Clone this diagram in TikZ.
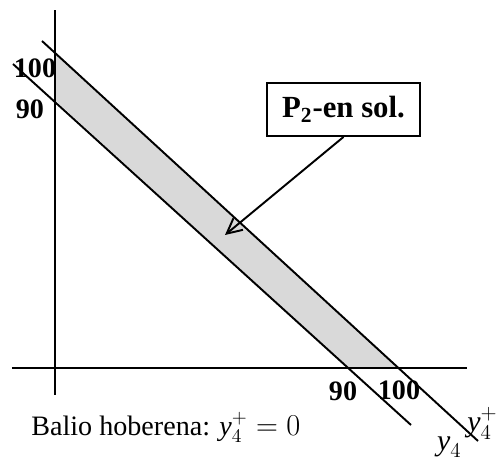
\documentclass[tikz,border=0pt]{standalone}
\usepackage{fontspec}
\setmainfont{Liberation Serif}
\usepackage{amsmath}
\usetikzlibrary{arrows.meta}
\newcommand{\yvar}{\mbox{\itshape y}}

\begin{document}
\begin{tikzpicture}[x=0.02cm, y=0.02cm,
        % Define styles for axes, constraint lines and labels
        axis/.style={line width=1.6pt},
        limit/.style={line width=1.1pt},
        numlabel/.style={font=\fontsize{16}{18}\selectfont\bfseries, inner sep=0pt},
        varlabel/.style={font=\fontsize{17}{19}\selectfont, inner sep=0pt},
        callout/.style={draw, line width=1.1pt, minimum width=3.06cm, minimum height=1.06cm, font=\fontsize{17.5}{19}\selectfont\bfseries}]

        \useasboundingbox (-55,-94) rectangle (445,368);

        % 1. Define the end points of the two lines y4 and y4+
        \coordinate (O) at (0, 0); % origin
        \coordinate (Utop) at (-13, 327);
        \coordinate (Ubot) at (423, -73);
        \coordinate (Ltop) at (-42, 304);
        \coordinate (Lbot) at (356, -57);

        % Axis crossings
        \coordinate (U1) at (0, 315);
        \coordinate (U2) at (343, 0);
        \coordinate (L1) at (0, 268);
        \coordinate (L2) at (293, 0);

        % 2. Shade the band between both lines
        \fill[black!15] (U1) -- (U2) -- (L2) -- (L1) -- cycle;

        % 3. Draw the axes
        \draw[axis] (0, -27) -- (0, 358);
        \draw[axis] (-43, 0) -- (412, 0);

        % 4. Draw the two lines
        \draw[limit] (Utop) -- (Ubot);
        \draw[limit] (Ltop) -- (Lbot);

        % 5. Labels on the axes
        \node[numlabel] (v100) at (-20, 300) {100};
        \node[numlabel] (v90) at (-25, 259) {90};
        \node[numlabel] (h90) at (288, -23) {90};
        \node[numlabel] (h100) at (344, -22) {100};

        \node[varlabel, anchor=east] (yplus) at (443, -55) {$\yvar_4^+$};
        \node[varlabel, anchor=east] (yminus) at (407, -79) {$\yvar_4$};

        % 6. Call-out box with its arrow
        \node[callout] (sol) at (288.5, 258.5) {P\textsubscript{2}-en sol.};
        \coordinate (tip) at (170, 133);
        \draw[line width=1.1pt, -{Straight Barb[length=3mm, width=3mm]}] (sol.south) -- (tip);

        % 7. Bottom text
        \node[anchor=base west, inner sep=0pt, font=\fontsize{16}{18}\selectfont] (best) at (-24, -68) {Balio hoberena: $\yvar_4^+ = 0$};

    \end{tikzpicture}
\end{document}
